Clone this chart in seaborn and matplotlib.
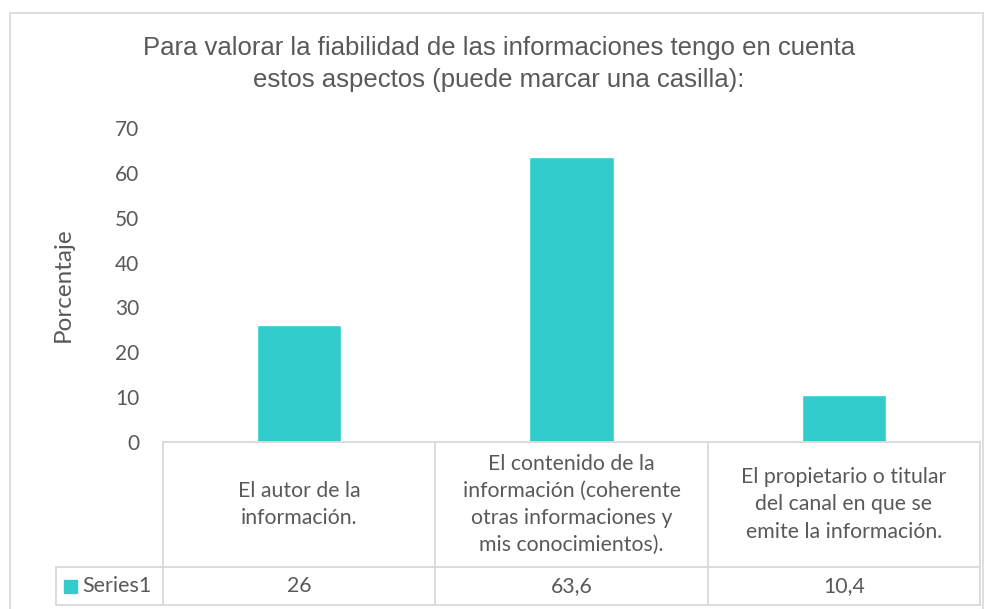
#Bar chart with data table (Excel style)
import numpy as np
import pandas as pd
import matplotlib.pyplot as plt
import matplotlib.transforms as mtransforms
from matplotlib.patches import Rectangle
import seaborn as sns

#data
categories = [
    "El autor de la\ninformación.",
    "El contenido de la\ninformación (coherente\notras informaciones y\nmis conocimientos).",
    "El propietario o titular\ndel canal en que se\nemite la información.",
]
values = [26, 63.6, 10.4]
value_labels = ["26", "63,6", "10,4"]
series_name = "Series1"
y_ticks = [0, 10, 20, 30, 40, 50, 60, 70]
title = ("Para valorar la fiabilidad de las informaciones tengo en cuenta\n"
         "estos aspectos (puede marcar una casilla):")

bar_color = "#33CCCC"
text_color = "#595959"
grid_color = "#D9D9D9"

sns.set_style("white")
plt.rcParams['font.family'] = ['Lato', 'DejaVu Sans']

W, H = 996, 609
fig = plt.figure(figsize=(W / 100, H / 100), dpi=100)

#plot area in pixels: left, right, top (70), bottom (0)
px_l, px_r, px_t, px_b = 163, 980, 128, 442
ax = fig.add_axes([px_l / W, 1 - px_b / H, (px_r - px_l) / W, (px_b - px_t) / H])

df = pd.DataFrame({"cat": categories, "val": values})
sns.barplot(data=df, x="cat", y="val", color=bar_color, width=0.31,
            saturation=1, ax=ax)
ax.set_xlim(-0.5, 2.5)
ax.set_ylim(0, 70)
ax.set_yticks(y_ticks)
ax.tick_params(axis='y', length=0, pad=17, labelsize=15, labelcolor=text_color)
ax.set_xticks([])
ax.set_xlabel("")
ax.set_ylabel("Porcentaje", fontsize=17.5, color=text_color, labelpad=30)
for s in ax.spines.values():
    s.set_visible(False)

fig.suptitle(title, x=499 / W, y=1 - 36 / H, fontsize=18.5,
             color=text_color, family=['Liberation Sans', 'DejaVu Sans'],
             va='top', linespacing=1.4)

#data table below the axis, pixel rows converted to axes fraction
ph = px_b - px_t
def yfrac(py):
    return (px_b - py) / ph

trans = mtransforms.blended_transform_factory(ax.transData, ax.transAxes)
row1_bot = yfrac(567)
row2_bot = yfrac(605)
x_left_cell = -0.5 - (px_l - 56) / ((px_r - px_l) / 3)
lw = 1.3

edges = np.arange(len(categories) + 1) - 0.5
for xe in edges:
    ax.plot([xe, xe], [0, row2_bot], color=grid_color, lw=lw, transform=trans,
            clip_on=False)
ax.plot([x_left_cell, x_left_cell], [row1_bot, row2_bot], color=grid_color,
        lw=lw, transform=trans, clip_on=False)
ax.plot([-0.5, 2.5], [0, 0], color=grid_color, lw=lw, transform=trans, clip_on=False)
for yr in [row1_bot, row2_bot]:
    ax.plot([x_left_cell, 2.5], [yr, yr], color=grid_color, lw=lw,
            transform=trans, clip_on=False)

for i, (cat, lab) in enumerate(zip(categories, value_labels)):
    ax.text(i, row1_bot / 2, cat, ha='center', va='center', fontsize=15.3,
            color=text_color, transform=trans, linespacing=1.45)
    ax.text(i, (row1_bot + row2_bot) / 2, lab, ha='center', va='center',
            fontsize=15.3, color=text_color, transform=trans)

#legend key inside the series cell
fig.patches.append(Rectangle((64 / W, 1 - 593 / H), 13 / W, 13 / H,
                             transform=fig.transFigure, color=bar_color))
fig.text(82 / W, 1 - 586 / H, series_name, ha='left', va='center', fontsize=15.5,
         color=text_color)

#outer chart border
fig.patches.append(Rectangle((10 / W, 1 - 613 / H), 973 / W, 600 / H,
                             transform=fig.transFigure, fill=False,
                             edgecolor=grid_color, lw=1.2))

plt.savefig("out.png", dpi=100)
plt.close()
